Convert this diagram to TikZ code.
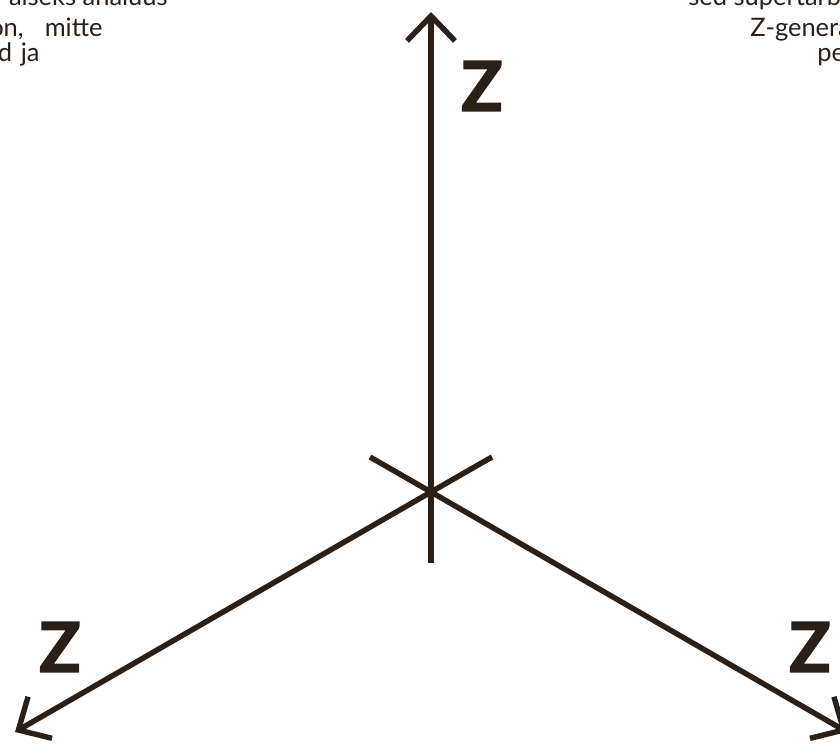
\documentclass[tikz,border=0pt]{standalone}
\usepackage{fontspec}
\setmainfont{Lato}
\newfontfamily\zfont[FakeBold=2.2]{Lato Bold}
\usetikzlibrary{arrows.meta}
\definecolor{ink}{RGB}{43,32,24}

\begin{document}
\begin{tikzpicture}[x=0.02cm,y=0.02cm,
    axis/.style={draw=ink,line width=3.1pt,-{Straight Barb[sharp,length=0.5cm,width=0.96cm]}},
    stub/.style={draw=ink,line width=3.1pt},
    zlabel/.style={text=ink,font=\fontsize{39}{39}\selectfont\zfont,inner sep=0pt},
    pagetext/.style={text=ink,font=\fontsize{14.5}{14.5}\selectfont,inner sep=0pt}]
    \useasboundingbox (0,0) rectangle (840,744);
    \clip (0,0) rectangle (840,744);

    % page text around the figure, cut by the frame
    \node[pagetext,anchor=base east] (txtLa) at (168,738) {alseks analüüs};
    \node[pagetext,anchor=base east] (txtLb) at (103,707) {on,\hspace{12pt}mitte};
    \node[pagetext,anchor=base east] (txtLc) at (40,682) {d\hspace{5pt}ja};
    \node[pagetext,anchor=base west] (txtRa) at (688,738) {sed supertarb};
    \node[pagetext,anchor=base west] (txtRb) at (750,707) {Z-genera};
    \node[pagetext,anchor=base west] (txtRc) at (817,682) {pe};

    % origin and axis ends
    \coordinate (O) at (431,252);
    \coordinate (zTop) at (431,732);
    \coordinate (zLeft) at (15,12);
    \coordinate (zRight) at (847,12);
    \coordinate (sDown) at (431,181);
    \coordinate (sLeft) at (370,287);
    \coordinate (sRight) at (492,287);

    \draw[axis] (O) -- (zTop);
    \draw[axis] (O) -- (zLeft);
    \draw[axis] (O) -- (zRight);
    \draw[stub] (O) -- (sDown);
    \draw[stub] (O) -- (sLeft);
    \draw[stub] (O) -- (sRight);

    \node[zlabel] (labTop) at (482,658) {Z};
    \node[zlabel] (labLeft) at (60,97) {Z};
    \node[zlabel] (labRight) at (810,97) {Z};
\end{tikzpicture}
\end{document}
